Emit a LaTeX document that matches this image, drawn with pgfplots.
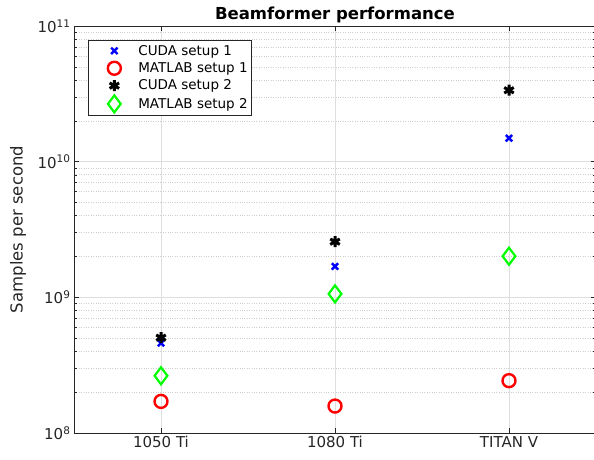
\documentclass[border=0pt]{standalone}
\usepackage{pgfplots}
\pgfplotsset{compat=1.18}
\usepackage{fontspec}
\setmainfont{DejaVu Sans}
\definecolor{axgray}{gray}{0.15}
\definecolor{grd}{gray}{0.87}
\begin{document}
\begin{tikzpicture}
\begin{axis}[
  scale only axis,
  width=522pt, height=407pt,
  ymode=log, log basis y=10,
  ymin=1e8, ymax=1e11,
  xmin=0.5, xmax=3.5,
  xtick={1,2,3},
  xticklabels={1050 Ti,1080 Ti,TITAN V},
  ytick={1e8,1e9,1e10,1e11},
  yticklabels={10\textsuperscript{8},10\textsuperscript{9},10\textsuperscript{10},10\textsuperscript{11}},
  minor ytick={2e8,3e8,4e8,5e8,6e8,7e8,8e8,9e8,2e9,3e9,4e9,5e9,6e9,7e9,8e9,9e9,2e10,3e10,4e10,5e10,6e10,7e10,8e10,9e10},
  tick label style={font=\fontsize{15}{17}\selectfont, color=axgray},
  tick align=inside,
  major tick length=5pt, minor tick length=3pt,
  axis line style={axgray, line width=0.6pt},
  tick style={axgray, line width=0.5pt},
  xmajorgrids, ymajorgrids, yminorgrids,
  major grid style={grd, line width=0.5pt},
  minor grid style={gray!38, dotted, line width=0.6pt},
  title={Beamformer performance},
  title style={font=\fontsize{16.5}{18}\selectfont\bfseries, at={(0.5,1)}, anchor=south, yshift=-6pt},
  ylabel={Samples per second},
  ylabel style={font=\fontsize{16.5}{18}\selectfont, color=axgray, at={(axis description cs:-0.107,0.5)}, anchor=center},
  legend style={at={(0.027,0.966)}, anchor=north west, draw=axgray, line width=0.5pt,
    font=\fontsize{13.5}{16}\selectfont, row sep=2pt, inner xsep=2pt, inner ysep=3pt,
    legend cell align=left},
  legend image code/.code={\path[draw=none,fill=none] (0pt,0pt) -- (46pt,0pt); \draw[#1] plot coordinates {(24pt,0pt)};},
  clip=false,
]
\addplot[only marks, mark=x, blue, mark size=4.5pt, line width=2.4pt] coordinates {(1,4.6e8) (2,1.69e9) (3,1.49e10)};
\addlegendentry{CUDA setup 1}
\addplot[only marks, mark=o, red, mark size=6.5pt, line width=2.4pt] coordinates {(1,1.71e8) (2,1.58e8) (3,2.43e8)};
\addlegendentry{MATLAB setup 1}
\addplot[only marks, mark=asterisk, black, mark size=5.5pt, line width=3pt] coordinates {(1,5.04e8) (2,2.57e9) (3,3.36e10)};
\addlegendentry{CUDA setup 2}
\addplot[only marks, mark=diamond, green, mark size=8.5pt, line width=2.2pt] coordinates {(1,2.64e8) (2,1.06e9) (3,2.01e9)};
\addlegendentry{MATLAB setup 2}
\end{axis}
\pgfresetboundingbox
\path ([shift={(-74pt,-27pt)}]current axis.south west) rectangle ([shift={(-2pt,26pt)}]current axis.north east);
\end{tikzpicture}
\end{document}
